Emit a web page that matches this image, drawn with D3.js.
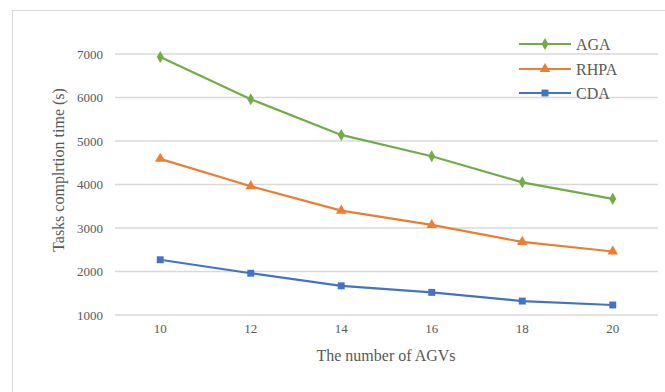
<!DOCTYPE html>
<html><head><meta charset="utf-8">
<script src="https://cdn.jsdelivr.net/npm/d3@7"></script>
<style>html,body{margin:0;padding:0;background:#fff;}svg{display:block;}
svg text{font-family:"Liberation Serif","Times New Roman","DejaVu Serif",serif !important;}</style>
</head><body>
<script>
const categories = ["10","12","14","16","18","20"];
const AGA = [6930, 5960, 5140, 4650, 4050, 3670];
const RHPA = [4590, 3960, 3400, 3070, 2680, 2460];
const CDA = [2270, 1960, 1670, 1520, 1320, 1230];
const yTicks = [1000,2000,3000,4000,5000,6000,7000];
const seriesNames = ["AGA","RHPA","CDA"];
const seriesColors = ["#70AD47","#ED7D31","#4472C4"];
const seriesShapes = [d3.symbolDiamond, d3.symbolTriangle, d3.symbolSquare];
const seriesData = [AGA, RHPA, CDA];

(function(){
const W = 665, H = 392;
const svg = d3.select("body").append("svg").attr("width", W).attr("height", H);

svg.append("rect").attr("x",12.5).attr("y",10.5).attr("width",800).attr("height",600)
  .attr("fill","none").attr("stroke","#D9D9D9").attr("stroke-width",1);

const pl = 115, pr = 658, pt = 54, pb = 315;
const x = d3.scaleBand().domain(categories).range([pl,pr]);
const y = d3.scaleLinear().domain([1000,7000]).range([pb, pt]);

svg.append("g").selectAll("line").data(yTicks).join("line")
  .attr("x1",pl).attr("x2",pr).attr("y1",d=>y(d)).attr("y2",d=>y(d))
  .attr("stroke","#D9D9D9").attr("stroke-width",1.3);

const ya = svg.append("g").attr("transform",`translate(${pl},0)`)
  .call(d3.axisLeft(y).tickValues(yTicks).tickFormat(d3.format("d")).tickSize(0).tickPadding(12));
ya.select(".domain").remove();
ya.selectAll("text").attr("font-size",13).attr("fill","#595959");

const xa = svg.append("g").attr("transform",`translate(0,${pb})`)
  .call(d3.axisBottom(x).tickSize(0).tickPadding(9));
xa.select(".domain").remove();
xa.selectAll("text").attr("font-size",13).attr("fill","#595959");

const line = d3.line().x((d,i)=>x(categories[i])+x.bandwidth()/2).y(d=>y(d));
seriesData.forEach((data,k)=>{
  svg.append("path").datum(data).attr("d",line).attr("fill","none")
    .attr("stroke",seriesColors[k]).attr("stroke-width",2.2);
  svg.append("g").selectAll("path").data(data).join("path")
    .attr("transform",(d,i)=>`translate(${x(categories[i])+x.bandwidth()/2},${y(d)})`)
    .attr("d",d3.symbol().type(seriesShapes[k]).size(k===0?42:48))
    .attr("fill",seriesColors[k]);
});

svg.append("text").attr("x",386).attr("y",361).attr("text-anchor","middle")
  .attr("font-size",16).attr("fill","#595959").text("The number of AGVs");
svg.append("text").attr("transform","translate(64,170) rotate(-90)").attr("text-anchor","middle")
  .attr("font-size",16).attr("fill","#595959").text("Tasks complrtion time (s)");

const ly = [44,69,93];
seriesNames.forEach((n,k)=>{
  const g = svg.append("g");
  g.append("line").attr("x1",519).attr("x2",571).attr("y1",ly[k]).attr("y2",ly[k])
    .attr("stroke",seriesColors[k]).attr("stroke-width",2.2);
  g.append("path").attr("transform",`translate(545,${ly[k]})`)
    .attr("d",d3.symbol().type(seriesShapes[k]).size(k===0?42:48)).attr("fill",seriesColors[k]);
  g.append("text").attr("x",576).attr("y",ly[k]+5.5).attr("font-size",16)
    .attr("fill","#595959").text(n);
});
})();
</script>
</body></html>
